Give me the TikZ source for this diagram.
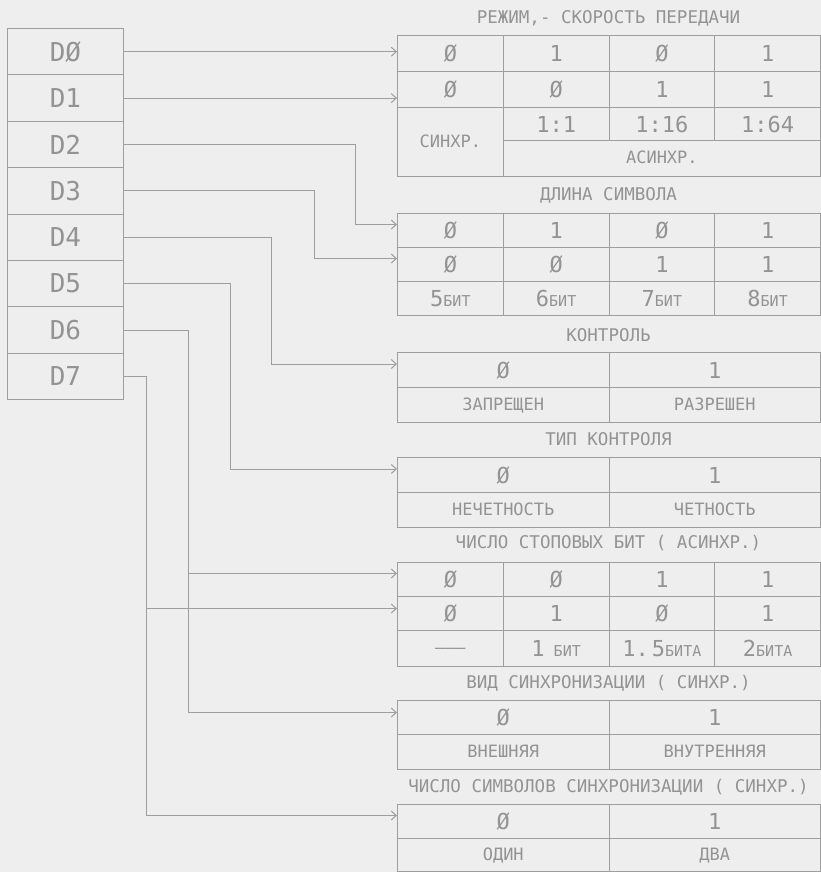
\documentclass[tikz,border=0pt]{standalone}
\usepackage{fontspec}
\usepackage{tikz}
\usetikzlibrary{arrows.meta}
\newfontfamily\plotfont{DejaVu Sans Mono}
\definecolor{paper}{HTML}{EEEEEE}
\definecolor{ink}{HTML}{9E9E9E}
\definecolor{inktext}{HTML}{939393}
\newcommand{\bitval}[2]{{\fontsize{22}{22}\selectfont #1}{\fontsize{15}{15}\selectfont #2}}

\begin{document}
\begin{tikzpicture}[
  x=1pt, y=-1pt,
  reg/.style={draw=ink, line width=1pt, anchor=north west, inner sep=0pt,
    minimum width=116pt, minimum height=46.4pt, text=inktext,
    font=\plotfont\fontsize{26}{26}\selectfont},
  cell/.style 2 args={draw=ink, line width=1pt, anchor=north west, inner sep=0pt,
    minimum width=#1, minimum height=#2, text=inktext,
    text height=16pt, text depth=0pt,
    font=\plotfont\fontsize{22}{22}\selectfont},
  lbl/.style={text height=12pt, text depth=2pt, font=\plotfont\fontsize{17}{17}\selectfont},
  head/.style={text=inktext, font=\plotfont\fontsize{17.5}{17.5}\selectfont},
  arr/.style={draw=ink, line width=1pt, -{Straight Barb[length=5pt,width=9pt]}}
]
\fill[paper] (0,0) rectangle (821,872);
\useasboundingbox (0,0) rectangle (821,872);

% register
\node[reg] (d0) at (7,28) {DØ};
\node[reg] (d1) at (7,74.4) {D1};
\node[reg] (d2) at (7,120.8) {D2};
\node[reg] (d3) at (7,167.2) {D3};
\node[reg] (d4) at (7,213.6) {D4};
\node[reg] (d5) at (7,260) {D5};
\node[reg] (d6) at (7,306.4) {D6};
\node[reg] (d7) at (7,352.8) {D7};

% mode / baud rate
\node[head] (h1) at (608.5,18) {РЕЖИМ,- СКОРОСТЬ ПЕРЕДАЧИ};
\node[cell={105.75pt}{36pt}] (t1a) at (397,35) {Ø};
\node[cell={105.75pt}{36pt}] (t1b) at (502.75,35) {1};
\node[cell={105.75pt}{36pt}] (t1c) at (608.5,35) {Ø};
\node[cell={105.75pt}{36pt}] (t1d) at (714.25,35) {1};
\node[cell={105.75pt}{36pt}] (t1e) at (397,71) {Ø};
\node[cell={105.75pt}{36pt}] (t1f) at (502.75,71) {Ø};
\node[cell={105.75pt}{36pt}] (t1g) at (608.5,71) {1};
\node[cell={105.75pt}{36pt}] (t1h) at (714.25,71) {1};
\node[cell={105.75pt}{69pt}, lbl] (t1s) at (397,107) {СИНХР.};
\node[cell={105.75pt}{33pt}] (t1i) at (502.75,107) {1:1};
\node[cell={105.75pt}{33pt}] (t1j) at (608.5,107) {1:16};
\node[cell={105.75pt}{33pt}] (t1k) at (714.25,107) {1:64};
\node[cell={317.25pt}{36pt}, lbl] (t1l) at (502.75,140) {АСИНХР.};

% character length
\node[head] (h2) at (608.5,195) {ДЛИНА СИМВОЛА};
\node[cell={105.75pt}{34pt}] (t2a) at (397,213) {Ø};
\node[cell={105.75pt}{34pt}] (t2b) at (502.75,213) {1};
\node[cell={105.75pt}{34pt}] (t2c) at (608.5,213) {Ø};
\node[cell={105.75pt}{34pt}] (t2d) at (714.25,213) {1};
\node[cell={105.75pt}{34pt}] (t2e) at (397,247) {Ø};
\node[cell={105.75pt}{34pt}] (t2f) at (502.75,247) {Ø};
\node[cell={105.75pt}{34pt}] (t2g) at (608.5,247) {1};
\node[cell={105.75pt}{34pt}] (t2h) at (714.25,247) {1};
\node[cell={105.75pt}{34pt}] (t2i) at (397,281) {\bitval{5}{БИТ}};
\node[cell={105.75pt}{34pt}] (t2j) at (502.75,281) {\bitval{6}{БИТ}};
\node[cell={105.75pt}{34pt}] (t2k) at (608.5,281) {\bitval{7}{БИТ}};
\node[cell={105.75pt}{34pt}] (t2l) at (714.25,281) {\bitval{8}{БИТ}};

% parity enable
\node[head] (h3) at (608.5,335) {КОНТРОЛЬ};
\node[cell={211.5pt}{35pt}] (t3a) at (397,352) {Ø};
\node[cell={211.5pt}{35pt}] (t3b) at (608.5,352) {1};
\node[cell={211.5pt}{35pt}, lbl] (t3c) at (397,387) {ЗАПРЕЩЕН};
\node[cell={211.5pt}{35pt}, lbl] (t3d) at (608.5,387) {РАЗРЕШЕН};

% parity type
\node[head] (h4) at (608.5,439) {ТИП КОНТРОЛЯ};
\node[cell={211.5pt}{35pt}] (t4a) at (397,457) {Ø};
\node[cell={211.5pt}{35pt}] (t4b) at (608.5,457) {1};
\node[cell={211.5pt}{35pt}, lbl] (t4c) at (397,492) {НЕЧЕТНОСТЬ};
\node[cell={211.5pt}{35pt}, lbl] (t4d) at (608.5,492) {ЧЕТНОСТЬ};

% stop bits
\node[head] (h5) at (608.5,543) {ЧИСЛО СТОПОВЫХ БИТ ( АСИНХР.)};
\node[cell={105.75pt}{34pt}] (t5a) at (397,562) {Ø};
\node[cell={105.75pt}{34pt}] (t5b) at (502.75,562) {Ø};
\node[cell={105.75pt}{34pt}] (t5c) at (608.5,562) {1};
\node[cell={105.75pt}{34pt}] (t5d) at (714.25,562) {1};
\node[cell={105.75pt}{34pt}] (t5e) at (397,596) {Ø};
\node[cell={105.75pt}{34pt}] (t5f) at (502.75,596) {1};
\node[cell={105.75pt}{34pt}] (t5g) at (608.5,596) {Ø};
\node[cell={105.75pt}{34pt}] (t5h) at (714.25,596) {1};
\node[cell={105.75pt}{36pt}, lbl] (t5i) at (397,630) {———};
\node[cell={105.75pt}{36pt}] (t5j) at (502.75,630) {\bitval{1}{ БИТ}};
\node[cell={105.75pt}{36pt}] (t5k) at (608.5,630) {\bitval{1.\kern3pt5}{БИТА}};
\node[cell={105.75pt}{36pt}] (t5l) at (714.25,630) {\bitval{2}{БИТА}};

% sync type
\node[head] (h6) at (608.5,683) {ВИД СИНХРОНИЗАЦИИ ( СИНХР.)};
\node[cell={211.5pt}{34pt}] (t6a) at (397,700) {Ø};
\node[cell={211.5pt}{34pt}] (t6b) at (608.5,700) {1};
\node[cell={211.5pt}{35pt}, lbl] (t6c) at (397,734) {ВНЕШНЯЯ};
\node[cell={211.5pt}{35pt}, lbl] (t6d) at (608.5,734) {ВНУТРЕННЯЯ};

% sync characters
\node[head] (h7) at (608.5,787) {ЧИСЛО СИМВОЛОВ СИНХРОНИЗАЦИИ ( СИНХР.)};
\node[cell={211.5pt}{34pt}] (t7a) at (397,804) {Ø};
\node[cell={211.5pt}{34pt}] (t7b) at (608.5,804) {1};
\node[cell={211.5pt}{33pt}, lbl] (t7c) at (397,838) {ОДИН};
\node[cell={211.5pt}{33pt}, lbl] (t7d) at (608.5,838) {ДВА};

% wiring
\draw[arr] (d0.east) -- (d0.east -| t1a.west);
\draw[arr] (d1.east) -- (d1.east -| t1e.west);
\draw[arr] (d2.east) -- ++(231,0) |- ([yshift=6pt]t2a.west);
\draw[arr] (d3.east) -- ++(190,0) |- ([yshift=6pt]t2e.west);
\draw[arr] (d4.east) -- ++(147,0) |- ([yshift=6pt]t3a.west);
\draw[arr] (d5.east) -- ++(106,0) |- ([yshift=6pt]t4a.west);
\draw[arr] (d6.east) -- ++(64,0) coordinate (d6v) |- ([yshift=5pt]t6a.west);
\draw[arr] (d7.east) -- ++(22,0) coordinate (d7v) |- ([yshift=6pt]t7a.west);
\draw[arr] ([yshift=6pt]d6v |- t5a.west) -- ([yshift=6pt]t5a.west);
\draw[arr] ([yshift=5pt]d7v |- t5e.west) -- ([yshift=5pt]t5e.west);
\end{tikzpicture}
\end{document}
